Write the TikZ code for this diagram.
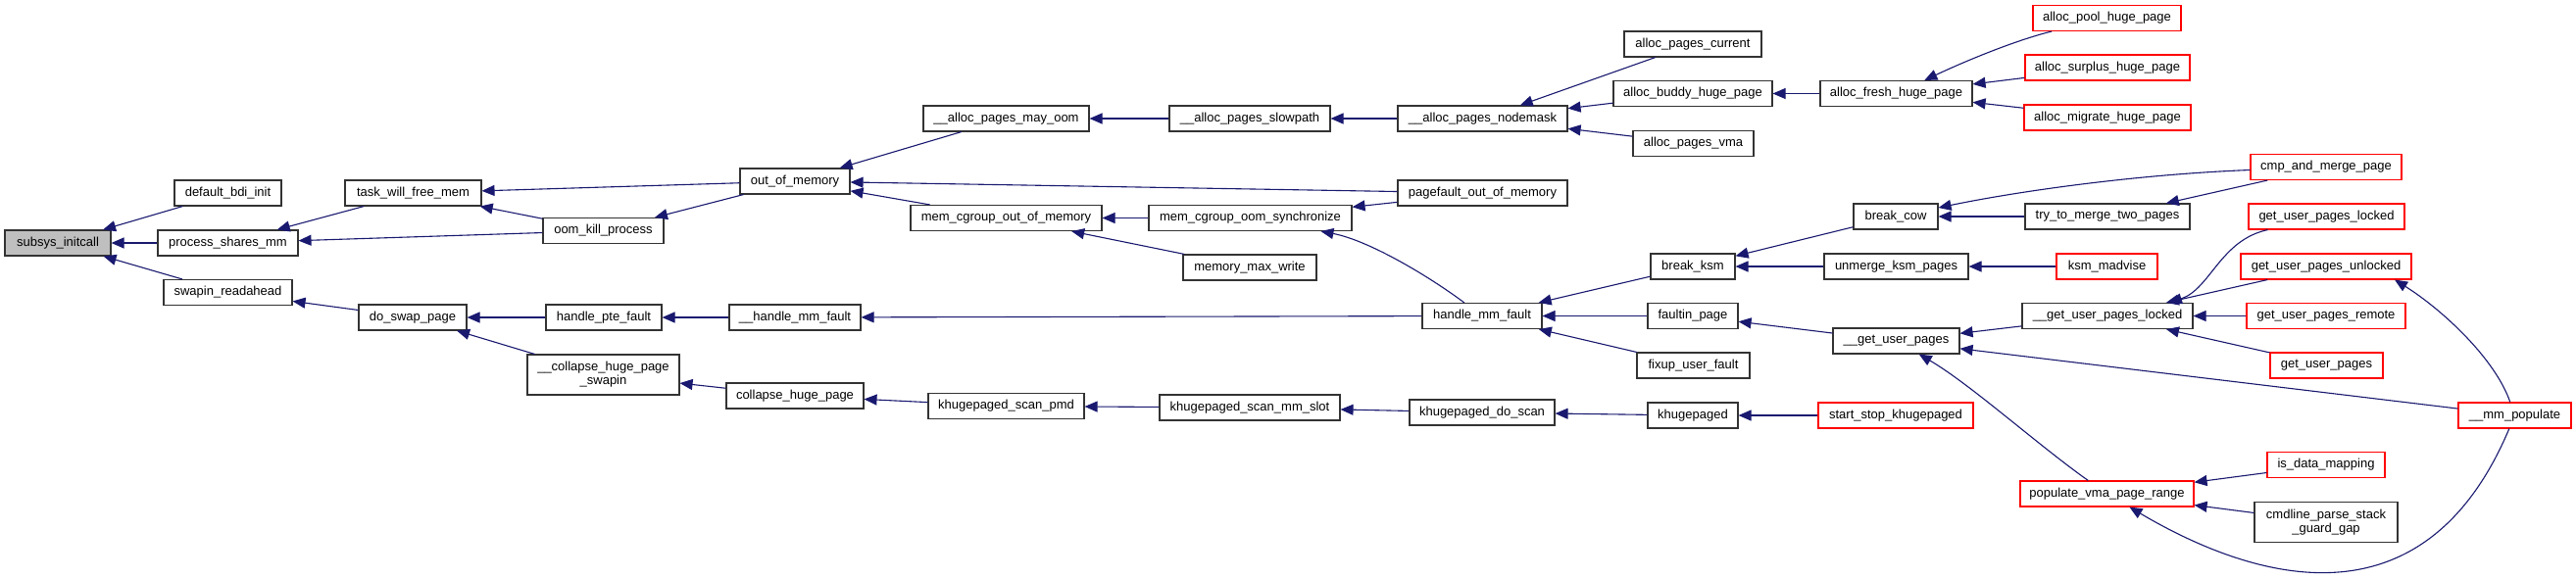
\documentclass[tikz,border=0pt]{standalone}
\usepackage{fontspec}
\setmainfont{Liberation Sans}
\usepackage{tikz}
\usetikzlibrary{arrows.meta}

\definecolor{edgeblue}{HTML}{191970}
\definecolor{fnred}{HTML}{FF0000}

\begin{document}
\begin{tikzpicture}[
  x=1pt, y=-1pt,
  fn/.style={draw=black!80, line width=1.1pt, fill=white, minimum height=26pt, inner sep=0pt, align=center, font=\fontsize{13}{14}\selectfont},
  fnred/.style={fn, draw=fnred},
  call/.style={{Triangle[length=13pt,width=11pt]}-, draw=edgeblue, line width=1.1pt},
]
\path[use as bounding box, fill=white] (0,0) rectangle (2628,590);
% Root
\node[fn, fill=gray!50, minimum width=108pt] (subsys) at (59,248) {subsys\_initcall};
% Column 1
\node[fn, minimum width=109pt] (bdi) at (232.5,197) {default\_bdi\_init};
\node[fn, minimum width=143pt] (psmm) at (232.5,248) {process\_shares\_mm};
\node[fn, minimum width=131pt] (swapin) at (232.5,298.5) {swapin\_readahead};
% Column 2
\node[fn, minimum width=139pt] (twfm) at (421.5,197) {task\_will\_free\_mem};
\node[fn, minimum width=110pt] (dsp) at (421,324) {do\_swap\_page};
% Column 3
\node[fn, minimum width=123pt] (okp) at (615.5,235.5) {oom\_kill\_process};
\node[fn, minimum width=118pt] (hpte) at (616,324) {handle\_pte\_fault};
\node[fn, minimum width=155pt, minimum height=41pt] (chps) at (615.5,382.5) {\_\_collapse\_huge\_page\\\_swapin};
% Column 4
\node[fn, minimum width=112pt] (oom) at (811,185) {out\_of\_memory};
\node[fn, minimum width=134pt] (hmmf) at (811,324) {\_\_handle\_mm\_fault};
\node[fn, minimum width=140pt] (chp) at (811,404) {collapse\_huge\_page};
% Column 5
\node[fn, minimum width=169pt] (apmo) at (1026.5,121) {\_\_alloc\_pages\_may\_oom};
\node[fn, minimum width=195pt] (mcoom) at (1026.5,222.5) {mem\_cgroup\_out\_of\_memory};
\node[fn, minimum width=159pt] (kspmd) at (1026.5,414.5) {khugepaged\_scan\_pmd};
% Column 6
\node[fn, minimum width=164pt] (slow) at (1275,121) {\_\_alloc\_pages\_slowpath};
\node[fn, minimum width=207pt] (msync) at (1275.5,222.5) {mem\_cgroup\_oom\_synchronize};
\node[fn, minimum width=136pt] (mmw) at (1275,273) {memory\_max\_write};
\node[fn, minimum width=184pt] (ksmm) at (1275,416) {khugepaged\_scan\_mm\_slot};
% Column 7
\node[fn, minimum width=173pt] (nodemask) at (1512.5,121) {\_\_alloc\_pages\_nodemask};
\node[fn, minimum width=173pt] (pfoom) at (1512.5,197) {pagefault\_out\_of\_memory};
\node[fn, minimum width=122pt] (hmf) at (1512,322.5) {handle\_mm\_fault};
\node[fn, minimum width=148pt] (kdo) at (1512,421) {khugepaged\_do\_scan};
% Column 8
\node[fn, minimum width=140pt] (apc) at (1727,45) {alloc\_pages\_current};
\node[fn, minimum width=162pt] (abhp) at (1727,95.5) {alloc\_buddy\_huge\_page};
\node[fn, minimum width=123pt] (apv) at (1727.5,146.5) {alloc\_pages\_vma};
\node[fn, minimum width=86pt] (bksm) at (1727,272) {break\_ksm};
\node[fn, minimum width=92pt] (fip) at (1727,322.5) {faultin\_page};
\node[fn, minimum width=115pt] (fuf) at (1727.5,373) {fixup\_user\_fault};
\node[fn, minimum width=92pt] (khp) at (1727,424) {khugepaged};
% Column 9
\node[fn, minimum width=155pt] (afhp) at (1934.5,95.5) {alloc\_fresh\_huge\_page};
\node[fn, minimum width=86pt] (bcow) at (1934,221) {break\_cow};
\node[fn, minimum width=147pt] (ukp) at (1934.5,272) {unmerge\_ksm\_pages};
\node[fn, minimum width=129pt] (gup) at (1934.5,348) {\_\_get\_user\_pages};
\node[fnred, minimum width=158pt] (ssk) at (1934,424) {start\_stop\_khugepaged};
% Column 10
\node[fnred, minimum width=151pt] (aphp) at (2149.5,18.5) {alloc\_pool\_huge\_page};
\node[fnred, minimum width=168pt] (ashp) at (2150,69) {alloc\_surplus\_huge\_page};
\node[fnred, minimum width=170pt] (amhp) at (2150,120) {alloc\_migrate\_huge\_page};
\node[fn, minimum width=168pt] (ttm) at (2150,221) {try\_to\_merge\_two\_pages};
\node[fnred, minimum width=103pt] (ksmad) at (2149.5,272) {ksm\_madvise};
\node[fn, minimum width=174pt] (gupli) at (2150,322.5) {\_\_get\_user\_pages\_locked};
\node[fnred, minimum width=177pt] (pvma) at (2149.5,504) {populate\_vma\_page\_range};
% Column 11
\node[fnred, minimum width=154pt] (cmp) at (2373,170.5) {cmp\_and\_merge\_page};
\node[fnred, minimum width=159pt] (gupl) at (2373.5,221) {get\_user\_pages\_locked};
\node[fnred, minimum width=174pt] (gupu) at (2373,272) {get\_user\_pages\_unlocked};
\node[fnred, minimum width=162pt] (gupr) at (2373,322.5) {get\_user\_pages\_remote};
\node[fnred, minimum width=115pt] (gupx) at (2373.5,373) {get\_user\_pages};
\node[fnred, minimum width=120pt] (idm) at (2373,474.5) {is\_data\_mapping};
\node[fn, minimum width=146pt, minimum height=41pt] (cpsg) at (2373,533) {cmdline\_parse\_stack\\\_guard\_gap};
% Column 12
\node[fnred, minimum width=115pt] (mmpop) at (2565.5,424) {\_\_mm\_populate};

% Calls, head at the callee
\draw[call] (subsys) -- (bdi);
\draw[call] (subsys) -- (psmm);
\draw[call] (subsys) -- (swapin);
\draw[call] (psmm) -- (twfm);
\draw[call] (psmm) -- (okp);
\draw[call] (swapin) -- (dsp);
\draw[call] (twfm) -- (oom);
\draw[call] (twfm) -- (okp);
\draw[call] (okp) -- (oom);
\draw[call] (dsp) -- (hpte);
\draw[call] (dsp) -- (chps);
\draw[call] (hpte) -- (hmmf);
\draw[call] (chps) -- (chp);
\draw[call] (oom) -- (apmo);
\draw[call] (oom) -- (pfoom);
\draw[call] (oom) -- (mcoom);
\draw[call] (hmmf) -- (hmf);
\draw[call] (chp) -- (kspmd);
\draw[call] (apmo) -- (slow);
\draw[call] (mcoom) -- (msync);
\draw[call] (mcoom) -- (mmw);
\draw[call] (kspmd) -- (ksmm);
\draw[call] (slow) -- (nodemask);
\draw[call] (msync) -- (pfoom);
\draw[call] (msync) .. controls (1395,245) and (1455,280) .. (hmf);
\draw[call] (ksmm) -- (kdo);
\draw[call] (nodemask) -- (apc);
\draw[call] (nodemask) -- (abhp);
\draw[call] (nodemask) -- (apv);
\draw[call] (hmf) -- (bksm);
\draw[call] (hmf) -- (fip);
\draw[call] (hmf) -- (fuf);
\draw[call] (kdo) -- (khp);
\draw[call] (abhp) -- (afhp);
\draw[call] (bksm) -- (bcow);
\draw[call] (bksm) -- (ukp);
\draw[call] (fip) -- (gup);
\draw[call] (khp) -- (ssk);
\draw[call] (afhp) .. controls (2010,60) and (2060,40) .. (aphp);
\draw[call] (afhp) -- (ashp);
\draw[call] (afhp) -- (amhp);
\draw[call] (bcow) .. controls (2060,195) and (2180,178) .. (cmp);
\draw[call] (bcow) -- (ttm);
\draw[call] (ukp) -- (ksmad);
\draw[call] (gup) -- (gupli);
\draw[call] (gup) -- (mmpop);
\draw[call] (gup) .. controls (2010,392) and (2080,455) .. (pvma);
\draw[call] (ttm) -- (cmp);
\draw[call] ([xshift=63pt]gupli.north) .. controls (2255,295) and (2265,245) .. ([xshift=-60pt]gupl.south);
\draw[call] (gupli) -- (gupu);
\draw[call] (gupli) -- (gupr);
\draw[call] (gupli) -- (gupx);
\draw[call] ([xshift=70pt]gupu.south) .. controls (2490,315) and (2545,365) .. (mmpop);
\draw[call] (pvma) -- (idm);
\draw[call] (pvma) -- (cpsg);
\draw[call] (pvma) .. controls (2290,587) and (2470,651) .. (mmpop);
\end{tikzpicture}
\end{document}
